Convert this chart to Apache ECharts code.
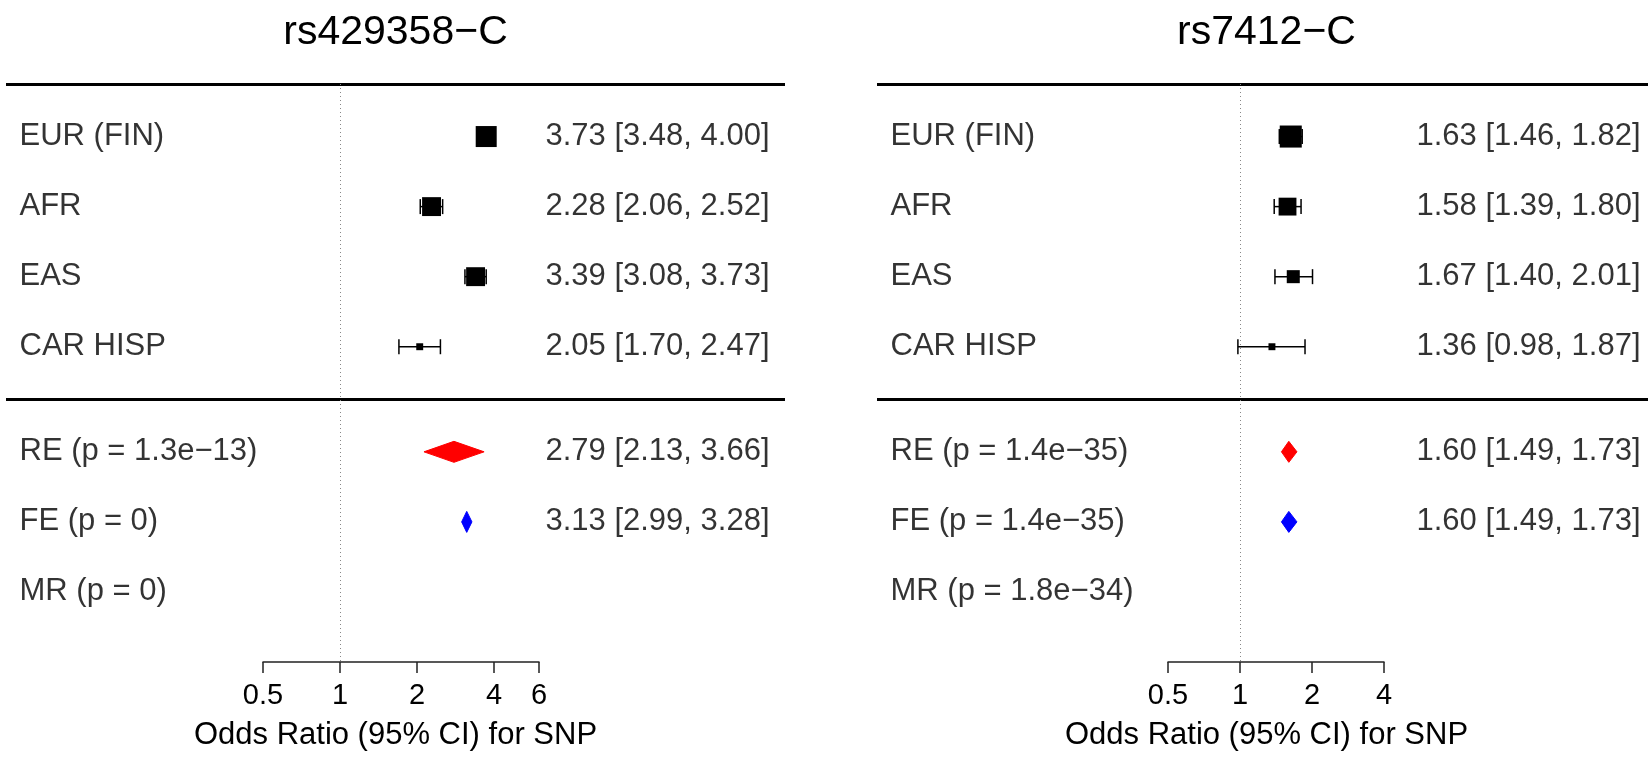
<!DOCTYPE html>
<html><head><meta charset="utf-8">
<script src="https://cdn.jsdelivr.net/npm/echarts@6/dist/echarts.min.js"></script>
<style>html,body{margin:0;padding:0;background:#fff}#c{width:1648px;height:760px}</style>
</head><body><div id="c"></div>
<script>
// ---------------- data ----------------
const titles = ['rs429358\u2212C', 'rs7412\u2212C'];
const studyNames = ['EUR (FIN)', 'AFR', 'EAS', 'CAR HISP'];

const orA = [3.73, 2.28, 3.39, 2.05];
const loA = [3.48, 2.06, 3.08, 1.70];
const hiA = [4.00, 2.52, 3.73, 2.47];
const weightA = [1.0, 0.9, 0.9, 0.33];
const summaryNamesA = ['RE (p = 1.3e\u221213)', 'FE (p = 0)', 'MR (p = 0)'];
const sumOrA = [2.79, 3.13, null];
const sumLoA = [2.13, 2.99, null];
const sumHiA = [3.66, 3.28, null];

const orB = [1.63, 1.58, 1.67, 1.36];
const loB = [1.46, 1.39, 1.40, 0.98];
const hiB = [1.82, 1.80, 2.01, 1.87];
const weightB = [1.05, 0.85, 0.62, 0.33];
const summaryNamesB = ['RE (p = 1.4e\u221235)', 'FE (p = 1.4e\u221235)', 'MR (p = 1.8e\u221234)'];
const sumOrB = [1.60, 1.60, null];
const sumLoB = [1.49, 1.49, null];
const sumHiB = [1.73, 1.73, null];

const axisMinOR = 0.5;
const axisMaxA = 6;
const axisMaxB = 4;
const xAxisTitle = 'Odds Ratio (95% CI) for SNP';
const summaryColors = ['#ff0000', '#0000ff', null];

// ---------------- layout ----------------
const FONT = '"Liberation Sans", Arial, Helvetica, sans-serif';
const TOP = 84, BOTTOM = 98;
const Y_MIN = 0.25, Y_MAX = 8.5;
const HLINES = [0.25, 4.75];
const panels = [
  { tableLeft: 6, forestLeft: 263, forestWidth: 276, max: axisMaxA,
    or: orA, lo: loA, hi: hiA, w: weightA, sNames: summaryNamesA, sOr: sumOrA, sLo: sumLoA, sHi: sumHiA },
  { tableLeft: 877, forestLeft: 1168, forestWidth: 216, max: axisMaxB,
    or: orB, lo: loB, hi: hiB, w: weightB, sNames: summaryNamesB, sOr: sumOrB, sLo: sumLoB, sHi: sumHiB }
];
const TABLE_W = 779;
const BOX = 21, CAP = 7.5, DIAM_H = 10.5;

function studyRow(i) { return i + 1; }
function summaryRow(j) { return studyNames.length + 1.5 + j; }
const fmt = (o, l, h) => o.toFixed(2) + ' [' + l.toFixed(2) + ', ' + h.toFixed(2) + ']';

const grids = [], xAxes = [], yAxes = [], series = [];

panels.forEach((p, k) => {
  const tg = grids.length;
  grids.push({ left: p.tableLeft, top: TOP, width: TABLE_W, bottom: BOTTOM, outerBoundsMode: 'none', containLabel: false });
  const fg = grids.length;
  grids.push({ left: p.forestLeft, top: TOP, width: p.forestWidth, bottom: BOTTOM, outerBoundsMode: 'none', containLabel: false });

  // table axes
  const txBottom = xAxes.length;
  xAxes.push({ gridIndex: tg, type: 'value', min: 0, max: 1, position: 'bottom',
    axisLine: { show: false }, axisTick: { show: false }, axisLabel: { show: false }, splitLine: { show: false },
    name: xAxisTitle, nameLocation: 'middle', nameGap: 58,
    nameTextStyle: { fontSize: 31, color: '#000', fontFamily: FONT } });
  xAxes.push({ gridIndex: tg, type: 'value', min: 0, max: 1, position: 'top',
    axisLine: { show: false }, axisTick: { show: false }, axisLabel: { show: false }, splitLine: { show: false },
    name: titles[k], nameLocation: 'middle', nameGap: 31,
    nameTextStyle: { fontSize: 41, color: '#000', fontFamily: FONT } });
  const ty = yAxes.length;
  yAxes.push({ gridIndex: tg, type: 'value', min: Y_MIN, max: Y_MAX, inverse: true, show: false });

  // forest axes
  const fx = xAxes.length;
  xAxes.push({ gridIndex: fg, type: 'log', logBase: 2, min: axisMinOR, max: p.max, position: 'bottom',
    axisLine: { show: true, lineStyle: { color: '#222', width: 1.5 } },
    axisTick: { show: true, length: 11, lineStyle: { color: '#222', width: 1.5 } },
    axisLabel: { show: true, fontSize: 29, color: '#000', fontFamily: FONT, margin: 19 },
    splitLine: { show: false }, minorTick: { show: false } });
  const fy = yAxes.length;
  yAxes.push({ gridIndex: fg, type: 'value', min: Y_MIN, max: Y_MAX, inverse: true, show: false });

  // horizontal rules
  series.push({ type: 'line', xAxisIndex: txBottom, yAxisIndex: ty, data: [], silent: true,
    markLine: { silent: true, symbol: 'none', label: { show: false },
      lineStyle: { color: '#000', width: 3, type: 'solid' },
      data: HLINES.map(v => ({ yAxis: v })) } });

  // row labels (left) and value text (right)
  const leftLabels = studyNames.map((n, i) => [0, studyRow(i), n])
    .concat(p.sNames.map((n, j) => [0, summaryRow(j), n]));
  series.push({ type: 'scatter', xAxisIndex: txBottom, yAxisIndex: ty, symbolSize: 1,
    itemStyle: { color: 'transparent' }, silent: true, data: leftLabels,
    label: { show: true, position: [14, 0], align: 'left', verticalAlign: 'middle',
      formatter: d => d.value[2], fontSize: 31, color: '#000', fontFamily: FONT } });
  const rightLabels = p.or.map((o, i) => [1, studyRow(i), fmt(o, p.lo[i], p.hi[i])]);
  p.sOr.forEach((o, j) => { if (o != null) rightLabels.push([1, summaryRow(j), fmt(o, p.sLo[j], p.sHi[j])]); });
  series.push({ type: 'scatter', xAxisIndex: txBottom, yAxisIndex: ty, symbolSize: 1,
    itemStyle: { color: 'transparent' }, silent: true, data: rightLabels,
    label: { show: true, position: [-15, 0], align: 'right', verticalAlign: 'middle',
      formatter: d => d.value[2], fontSize: 31, color: '#000', fontFamily: FONT } });

  // study estimates: CI + box
  series.push({ type: 'custom', xAxisIndex: fx, yAxisIndex: fy, silent: true, clip: false,
    data: p.or.map((o, i) => [o, p.lo[i], p.hi[i], studyRow(i), p.w[i]]),
    renderItem: (params, api) => {
      const c = api.coord([api.value(0), api.value(3)]);
      const l = api.coord([api.value(1), api.value(3)]);
      const h = api.coord([api.value(2), api.value(3)]);
      const s = api.value(4) * BOX;
      const st = { stroke: '#000', lineWidth: 1.5 };
      return { type: 'group', children: [
        { type: 'line', shape: { x1: l[0], y1: l[1], x2: h[0], y2: h[1] }, style: st },
        { type: 'line', shape: { x1: l[0], y1: l[1] - CAP, x2: l[0], y2: l[1] + CAP }, style: st },
        { type: 'line', shape: { x1: h[0], y1: h[1] - CAP, x2: h[0], y2: h[1] + CAP }, style: st },
        { type: 'rect', shape: { x: c[0] - s / 2, y: c[1] - s / 2, width: s, height: s }, style: { fill: '#000' } }
      ] };
    },
    markLine: { silent: true, symbol: 'none', label: { show: false },
      lineStyle: { color: '#888', width: 1, type: [1, 3] },
      data: [{ xAxis: 1 }] }
  });

  // summary diamonds
  const sumData = [];
  p.sOr.forEach((o, j) => { if (o != null) sumData.push([o, p.sLo[j], p.sHi[j], summaryRow(j), j]); });
  series.push({ type: 'custom', xAxisIndex: fx, yAxisIndex: fy, silent: true, clip: false,
    data: sumData,
    renderItem: (params, api) => {
      const c = api.coord([api.value(0), api.value(3)]);
      const l = api.coord([api.value(1), api.value(3)]);
      const h = api.coord([api.value(2), api.value(3)]);
      const col = summaryColors[api.value(4)];
      return { type: 'polygon',
        shape: { points: [[l[0], l[1]], [c[0], c[1] - DIAM_H], [h[0], h[1]], [c[0], c[1] + DIAM_H]] },
        style: { fill: col, stroke: col, lineWidth: 1 } };
    } });
});

const chart = echarts.init(document.getElementById('c'), null, { renderer: 'canvas' });
chart.setOption({
  animation: false,
  backgroundColor: '#fff',
  textStyle: { fontFamily: FONT },
  grid: grids, xAxis: xAxes, yAxis: yAxes, series: series
});
</script></body></html>
